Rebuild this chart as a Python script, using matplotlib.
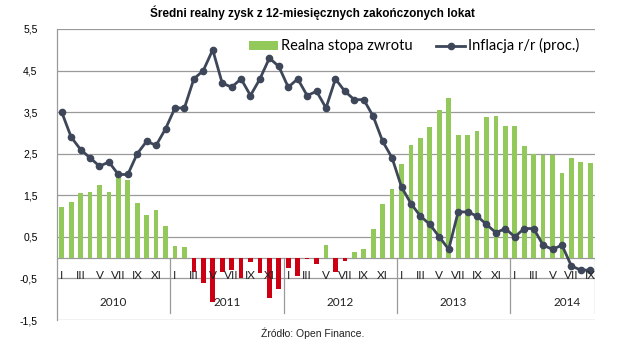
import numpy as np
import matplotlib
matplotlib.use("Agg")
import matplotlib.pyplot as plt

# monthly data, Jan 2010 - Sep 2014
years = ["2010", "2011", "2012", "2013", "2014"]
months_per_year = [12, 12, 12, 12, 9]
month_names = ["I", "II", "III", "IV", "V", "VI", "VII", "VIII", "IX", "X", "XI", "XII"]

real_rate = [
    1.23, 1.34, 1.55, 1.59, 1.74, 1.59, 1.94, 1.86, 1.32, 1.02, 1.14, 0.77,
    0.28, 0.26, -0.35, -0.62, -1.06, -0.34, -0.30, -0.50, -0.11, -0.38, -0.98, -0.76,
    -0.26, -0.43, -0.04, -0.16, 0.30, -0.35, -0.07, 0.13, 0.21, 0.68, 1.30, 1.66,
    2.26, 2.70, 2.89, 3.15, 3.55, 3.85, 2.95, 2.95, 3.04, 3.39, 3.41, 3.17,
    3.17, 2.69, 2.50, 2.47, 2.47, 2.03, 2.40, 2.31, 2.28,
]
inflation = [
    3.5, 2.9, 2.6, 2.4, 2.2, 2.3, 2.0, 2.0, 2.5, 2.8, 2.7, 3.1,
    3.6, 3.6, 4.3, 4.5, 5.0, 4.2, 4.1, 4.3, 3.9, 4.3, 4.8, 4.6,
    4.1, 4.3, 3.9, 4.0, 3.6, 4.3, 4.0, 3.8, 3.8, 3.4, 2.8, 2.4,
    1.7, 1.3, 1.0, 0.8, 0.5, 0.2, 1.1, 1.1, 1.0, 0.8, 0.6, 0.7,
    0.5, 0.7, 0.7, 0.3, 0.2, 0.3, -0.2, -0.3, -0.3,
]
yticks = [5.5, 4.5, 3.5, 2.5, 1.5, 0.5, -0.5, -1.5]

GREEN = "#92C95A"
RED = "#CC0012"
LINE = "#3D4759"
GRID = "#9A9A9A"
FONT = ["Lato", "DejaVu Sans"]

x = np.arange(len(real_rate))
colors = [GREEN if v >= 0 else RED for v in real_rate]

fig = plt.figure(figsize=(6.25, 3.59), dpi=100)
ax = fig.add_axes([57 / 625, 1 - 320 / 359, 538 / 625, 291 / 359])

bars = ax.bar(x, real_rate, width=0.5, color=colors, zorder=2)
line, = ax.plot(x, inflation, color=LINE, lw=2, marker="o", markersize=4.5, zorder=3)

ax.set_xlim(-0.5, len(x) - 0.5)
ax.set_ylim(-1.5, 5.5)
ax.set_yticks(yticks)
ax.set_yticklabels([f"{t:.1f}".replace(".", ",") for t in yticks], family=["Liberation Sans"], fontsize=7.5)
ax.tick_params(axis="y", length=0, pad=14)
ax.set_xticks([])
ax.yaxis.grid(True, color=GRID, lw=0.9, zorder=0)
ax.set_axisbelow(True)
for s in ["top", "right", "bottom"]:
    ax.spines[s].set_visible(False)
ax.spines["left"].set_color(GRID)
ax.spines["left"].set_linewidth(0.9)

# horizontal axis at zero, month and year labels below it
ax.axhline(0, color=GRID, lw=0.9, zorder=1)
start = 0
for yr, n in zip(years, months_per_year):
    for m in range(0, n, 2):
        ax.text(start + m, -0.42, month_names[m], ha="center", va="center",
                fontsize=8.5, family=FONT, color="#222222")
    ax.text(start + (n - 1) / 2 if n == 12 else start + 5.5, -1.07, yr, ha="center", va="center",
            fontsize=8.5, family=FONT, color="#222222")
    end = start + n
    ax.plot([end - 0.5, end - 0.5], [0, -1.32], color=GRID, lw=0.9, zorder=1)
    start = end

leg = ax.legend([bars, line], ["Realna stopa zwrotu", "Inflacja r/r (proc.)"], ncol=2,
                loc="center", bbox_to_anchor=(0.663, 0.872), bbox_transform=fig.transFigure,
                frameon=False, prop={"family": FONT, "size": 10.5}, handlelength=2.0,
                handleheight=0.6, handletextpad=0.2, columnspacing=1.6)

fig.text(0.5, 0.965, "Średni realny zysk z 12-miesięcznych zakończonych lokat", ha="center",
         va="center", fontsize=8.5, fontweight="bold", family=["Liberation Sans Narrow", "Liberation Sans"])
fig.text(0.5, 0.072, "Źródło: Open Finance.", ha="center", va="center", fontsize=7.5,
         family=["Liberation Sans"], color="#222222")

fig.savefig("out.png", dpi=100)
